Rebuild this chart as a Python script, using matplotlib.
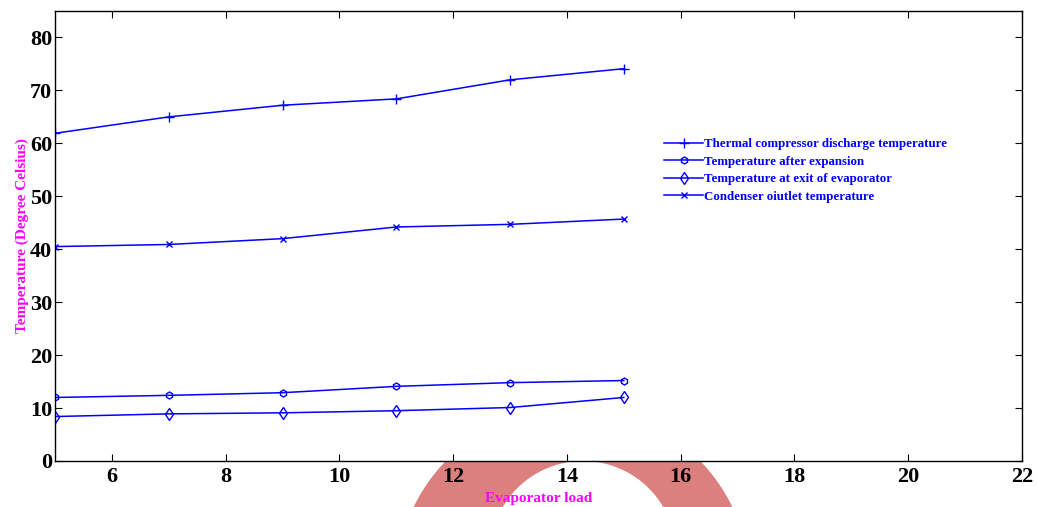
import matplotlib
matplotlib.use("Agg")
import matplotlib.pyplot as plt
import numpy as np
from matplotlib.path import Path
from matplotlib.patches import PathPatch
from matplotlib.transforms import Affine2D

plt.rcParams['font.family'] = ['Liberation Serif', 'DejaVu Serif']

load = [5, 7, 9, 11, 13, 15]
discharge = [61.9, 65.0, 67.2, 68.4, 72.0, 74.1]
after_exp = [12.0, 12.4, 12.9, 14.1, 14.8, 15.2]
evap_exit = [8.4, 8.9, 9.1, 9.5, 10.1, 12.0]
cond_out = [40.5, 40.9, 42.0, 44.2, 44.7, 45.7]

labels = ["Thermal compressor discharge temperature",
          "Temperature after expansion",
          "Temperature at exit of evaporator",
          "Condenser oiutlet temperature"]

W, H = 1037, 507
fig = plt.figure(figsize=(W / 100, H / 100), dpi=100)
ax = fig.add_axes([55 / W, (H - 461) / H, (1022 - 55) / W, (461 - 11) / H])

col = '#0000ff'
ax.plot(load, discharge, color=col, lw=1.1, marker='+', ms=7, mew=1.0, label=labels[0])
ax.plot(load, after_exp, color=col, lw=1.1, marker='h', ms=5, mfc='none', mew=1.0, label=labels[1])
ax.plot(load, evap_exit, color=col, lw=1.1, marker='d', ms=6, mfc='none', mew=1.0, label=labels[2])
ax.plot(load, cond_out, color=col, lw=1.1, marker='x', ms=4, mew=1.0, label=labels[3])

ax.set_xlim(5, 22)
ax.set_ylim(0, 85)
ax.set_xticks([6, 8, 10, 12, 14, 16, 18, 20, 22])
ax.set_yticks([0, 10, 20, 30, 40, 50, 60, 70, 80])
ax.tick_params(direction='in', top=True, right=True, length=5, width=0.8,
               labelsize=16)
ax.tick_params(axis='y', pad=2)
ax.tick_params(axis='x', pad=4)
for lab in ax.get_xticklabels() + ax.get_yticklabels():
    lab.set_fontweight('bold')
for s in ax.spines.values():
    s.set_linewidth(1.0)

ax.set_xlabel("Evaporator load", color='#ff00ff', fontsize=11, fontweight='bold', labelpad=4)
ax.set_ylabel("Temperature (Degree Celsius)", color='#ff00ff', fontsize=11, fontweight='bold', labelpad=1)

leg = ax.legend(loc='upper left', bbox_to_anchor=((659 - 55) / (1022 - 55), (461 - 133) / 450),
                frameon=False, fontsize=9.3, handlelength=3.0, handletextpad=0.1,
                labelspacing=0.42, borderaxespad=0)
for t in leg.get_texts():
    t.set_color(col)
    t.set_fontweight('bold')

# red arc decoration below the axis (image pixel coordinates, flipped y)
def circle_path(cx, cy, r, n=200, reverse=False):
    th = np.linspace(0, 2 * np.pi, n)
    if reverse:
        th = th[::-1]
    pts = np.column_stack([cx + r * np.cos(th), (H - cy) + r * np.sin(th)])
    codes = [Path.MOVETO] + [Path.LINETO] * (n - 2) + [Path.CLOSEPOLY]
    return pts, codes

p1, c1 = circle_path(573, 584, 177)
p2, c2 = circle_path(583, 554, 93, reverse=True)
path = Path(np.vstack([p1, p2]), c1 + c2)
patch = PathPatch(path, facecolor='#dc7f7f', edgecolor='none',
                  transform=Affine2D(), zorder=-1)
fig.patches.append(patch)
patch.set_figure(fig)

fig.savefig("out.png", dpi=100)
